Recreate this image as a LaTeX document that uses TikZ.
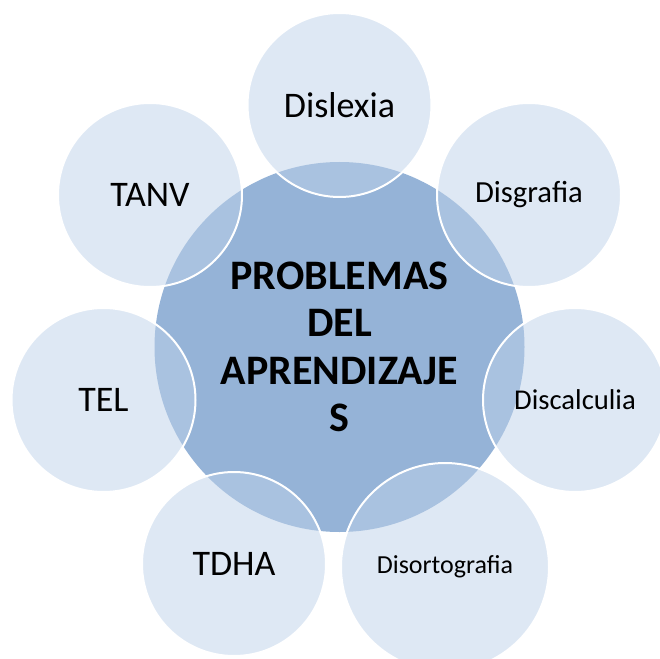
\documentclass[tikz,border=0pt]{standalone}
\usepackage{fontspec}
\setmainfont{Carlito}
\definecolor{hubblue}{RGB}{149,179,215}
\definecolor{petalblue}{RGB}{189,209,233}
\begin{document}
\begin{tikzpicture}[x=0.75pt,y=-0.75pt,
  hub/.style={circle, fill=hubblue, inner sep=0pt, minimum size=277.5pt,
    align=center, font=\bfseries\fontsize{31.5}{35.5}\selectfont},
  petal/.style={circle, fill=petalblue, fill opacity=0.5, text opacity=1,
    draw=white, draw opacity=1, line width=1.5pt, inner sep=0pt,
    minimum size=138pt, align=center, font=\fontsize{27}{30}\selectfont}]
\useasboundingbox (0,0) rectangle (660,659);
\node[hub] (c) at (339.5,347) {PROBLEMAS\\DEL\\APRENDIZAJE\\S};
\node[petal] (dislexia) at (339.5,105) {Dislexia};
\node[petal, font=\fontsize{23}{26}\selectfont] (disgrafia) at (529,195) {Disgrafia};
\node[petal, font=\fontsize{21.5}{24}\selectfont] (discalculia) at (575,400) {Discalculia};
\node[petal, minimum size=156pt, font=\fontsize{19.5}{22}\selectfont] (disortografia) at (445,567) {Disortografia};
\node[petal] (tdha) at (234,564) {TDHA};
\node[petal] (tel) at (103.5,400) {TEL};
\node[petal] (tanv) at (150,195) {TANV};
\end{tikzpicture}
\end{document}
